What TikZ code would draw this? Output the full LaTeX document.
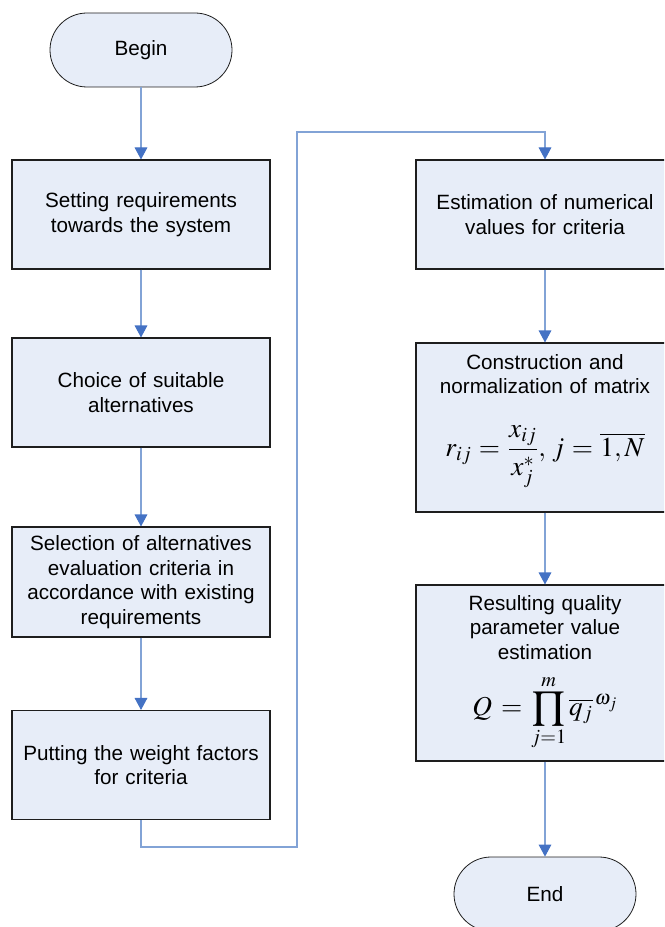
\documentclass[tikz,border=0pt]{standalone}
\usepackage{mathptmx}
\usepackage{fontspec}
\setsansfont{Liberation Sans}
\usetikzlibrary{arrows.meta,positioning}
\definecolor{boxfill}{RGB}{231,237,248}
\definecolor{lineblue}{RGB}{130,163,214}
\definecolor{tipblue}{RGB}{68,114,196}
\definecolor{edgegray}{RGB}{30,30,30}
\tikzset{
  stepbox/.style={draw=edgegray, fill=boxfill, line width=0.8pt, minimum width=193.5pt,
    minimum height=81.75pt, text width=185pt, align=center, inner sep=2pt,
    font=\sffamily\fontsize{15.5}{18.5}\selectfont},
  termbox/.style={draw=edgegray, fill=boxfill, line width=0.6pt, rounded corners=27.75pt,
    minimum width=136.5pt, minimum height=55.5pt, font=\sffamily\fontsize{15.5}{18.5}\selectfont},
  conn/.style={draw=lineblue, line width=0.8pt, -{Triangle[length=9pt,width=9.5pt,color=tipblue]}},
}
\newcommand{\bigmath}{\fontsize{20.5}{24}\selectfont}
\begin{document}
\begin{tikzpicture}[x=0.75pt, y=-0.75pt]
    \clip (0,0) rectangle (664,927);
    \useasboundingbox (0,0) rectangle (664,927);
    % left column
    \node[termbox] (begin) at (141,50) {Begin};
    \node[stepbox] (req) at (141,214.5) {Setting requirements\\towards the system};
    \node[stepbox] (choice) at (141,392.5) {Choice of suitable\\alternatives};
    \node[stepbox, minimum height=82.5pt] (select) at (141,582) {Selection of alternatives\\evaluation criteria in\\accordance with existing\\requirements};
    \node[stepbox] (weight) at (141,765) {Putting the weight factors\\for criteria};
    % right column
    \node[stepbox] (estim) at (545,214.5) {Estimation of numerical\\values for criteria};
    \node[stepbox, minimum height=126.75pt] (matrix) at (545,427.5) {Construction and\\normalization of matrix\\
      \rule[-33pt]{0pt}{79pt}\bigmath$\displaystyle r_{ij}=\frac{x_{ij}}{x_j^{*}},\, j=\overline{1,N}$};
    \node[stepbox, minimum height=132pt] (result) at (545,673) {Resulting quality\\parameter value\\estimation\\
      \rule{0pt}{41pt}\bigmath$\displaystyle Q=\prod_{j=1}^{m}\overline{q_j}^{\,\omega_j}$};
    \node[termbox] (end) at (545,894) {End};
    % connectors
    \coordinate (turnlow) at (297,847);
    \coordinate (turnhigh) at (297,132);
    \draw[conn] (begin.south) -- (req.north);
    \draw[conn] (req.south) -- (choice.north);
    \draw[conn] (choice.south) -- (select.north);
    \draw[conn] (select.south) -- (weight.north);
    \draw[conn] (weight.south) |- (turnlow) -- (turnhigh) -| (estim.north);
    \draw[conn] (estim.south) -- (matrix.north);
    \draw[conn] (matrix.south) -- (result.north);
    \draw[conn] (result.south) -- (end.north);
\end{tikzpicture}
\end{document}
